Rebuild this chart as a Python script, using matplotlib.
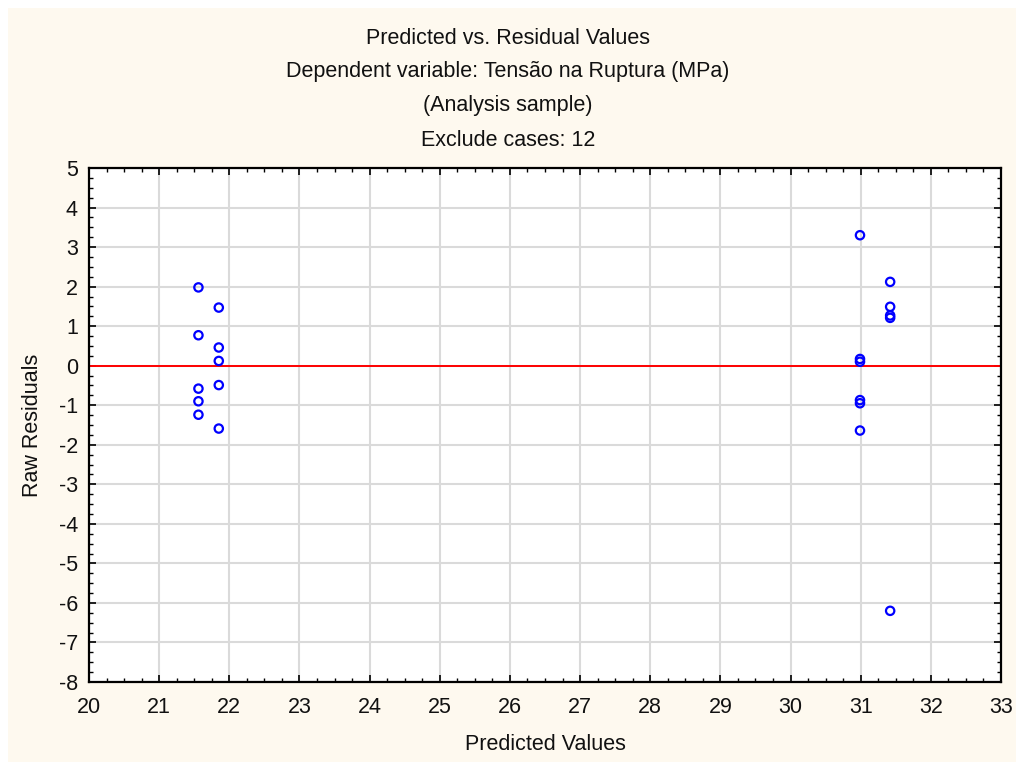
import matplotlib
matplotlib.use("Agg")
import matplotlib.pyplot as plt
from matplotlib.patches import Rectangle
from matplotlib.ticker import MultipleLocator, AutoMinorLocator

plt.rcParams['font.family'] = ['Liberation Sans', 'DejaVu Sans']
plt.rcParams['axes.unicode_minus'] = False

# predicted values and raw residuals
predicted = [21.56, 21.56, 21.56, 21.56, 21.56,
             21.85, 21.85, 21.85, 21.85, 21.85,
             30.99, 30.99, 30.99, 30.99, 30.99, 30.99,
             31.42, 31.42, 31.42, 31.42, 31.42]
residuals = [1.98, 0.77, -0.58, -0.90, -1.24,
             1.47, 0.46, 0.12, -0.49, -1.59,
             3.30, 0.17, 0.10, -0.87, -0.95, -1.64,
             2.12, 1.49, 1.27, 1.21, -6.20]

title_lines = ["Predicted vs. Residual Values",
               "Dependent variable: Tensão na Ruptura (MPa)",
               "(Analysis sample)",
               "Exclude cases: 12"]

W, H = 1016, 762
fs = 15.5
fig = plt.figure(figsize=(W / 100, H / 100), dpi=100)
fig.patch.set_facecolor("white")
fig.patches.append(Rectangle((8 / W, 0), 1, 1 - 8 / H, transform=fig.transFigure,
                             facecolor="#fef9ef", edgecolor="none", zorder=-10))

ax = fig.add_axes([89 / W, 1 - 682 / H, (1001 - 89) / W, (682 - 168) / H])
ax.set_facecolor("white")

ax.axhline(0, color="#ff0000", lw=1.4, zorder=2)
ax.scatter(predicted, residuals, s=36, facecolors="none", edgecolors="#0000ff",
           linewidths=1.6, zorder=3)

ax.set_xlim(20, 33)
ax.set_ylim(-8, 5)
ax.xaxis.set_major_locator(MultipleLocator(1))
ax.yaxis.set_major_locator(MultipleLocator(1))
ax.xaxis.set_minor_locator(AutoMinorLocator(4))
ax.yaxis.set_minor_locator(AutoMinorLocator(4))
ax.grid(True, which="major", color="#dadada", lw=1.5, zorder=0)
ax.set_axisbelow(True)
ax.tick_params(which="both", direction="in", top=True, right=True, labelsize=fs,
               color="black", labelcolor="#111111")
ax.tick_params(which="major", length=5, width=1.2)
ax.tick_params(which="minor", length=3, width=1)
ax.tick_params(axis="x", which="major", pad=11)
ax.tick_params(axis="y", which="major", pad=8)
for sp in ax.spines.values():
    sp.set_linewidth(1.6)

# axis titles placed in figure pixels
fig.text(545 / W, 1 - 745 / H, "Predicted Values", ha="center", va="center",
         fontsize=fs, color="#111111")
fig.text(33 / W, 1 - 425 / H, "Raw Residuals", ha="center", va="center",
         rotation=90, fontsize=fs, color="#111111")

for i, line in enumerate(title_lines):
    fig.text(0.5, 1 - (38 + i * 34) / H, line, ha="center", va="center",
             fontsize=fs, color="#111111")

fig.savefig("out.png", dpi=100)
